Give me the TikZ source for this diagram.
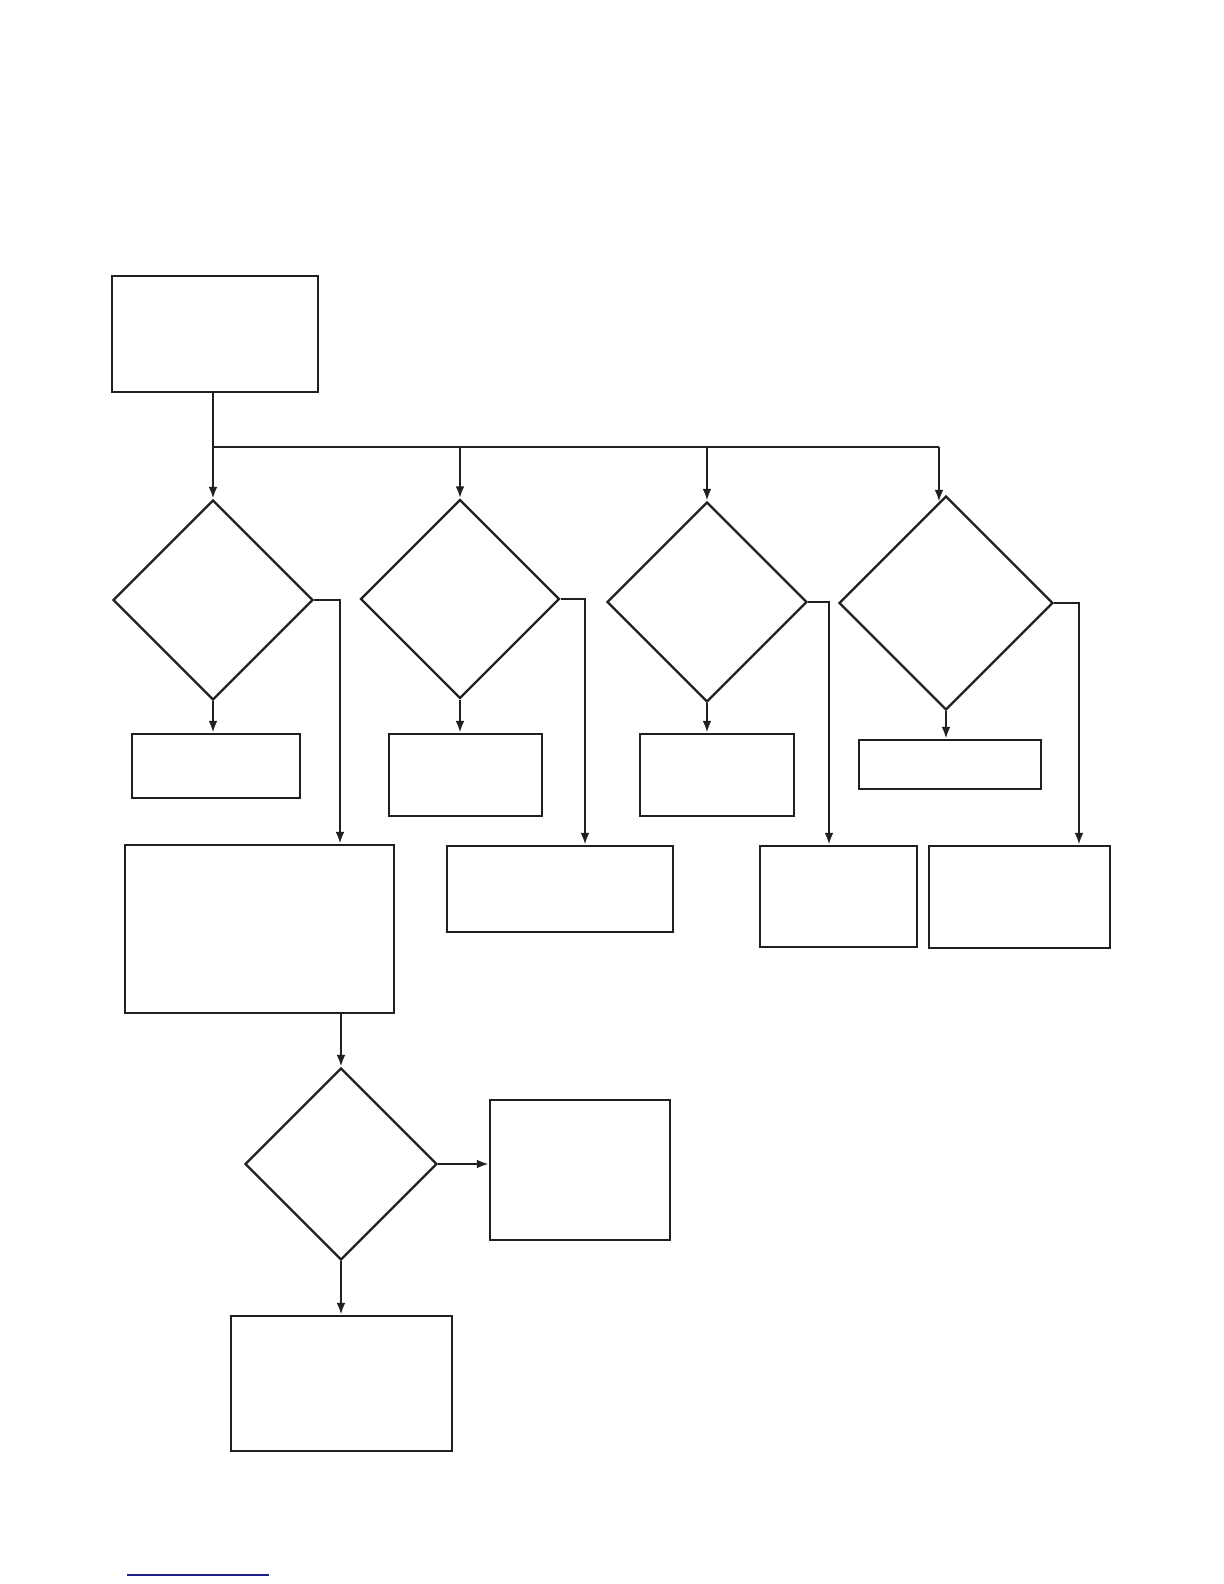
\documentclass[tikz,border=0pt]{standalone}
\usepackage{tikz}
\usetikzlibrary{arrows.meta,positioning,calc,shapes.geometric}
\usepackage{xcolor}
\definecolor{FlowInk}{HTML}{231F20}
\definecolor{FlowLink}{HTML}{1C1C8A}

\begin{document}
\begin{tikzpicture}[x=0.5pt,y=-0.5pt,line width=1.15pt,draw=FlowInk,
    box/.style={draw=FlowInk,rectangle,inner sep=0pt,minimum width=#1},
    decision/.style={draw=FlowInk,diamond,aspect=1,inner sep=0pt,minimum width=#1,minimum height=#1},
    arr/.style={-{Latex[length=6pt,width=4.4pt]},FlowInk}]
    \useasboundingbox (0,0) rectangle (1224,1584);
    % top row
    \node[box=103pt,minimum height=58pt] (start) at (215,334) {};
    \node[decision=100pt] (d1) at (213,600) {};
    \node[decision=99.5pt] (d2) at (460,599) {};
    \node[decision=100pt] (d3) at (707,602) {};
    \node[decision=107pt] (d4) at (946,603) {};
    % boxes under the diamonds
    \node[box=84pt,minimum height=32pt] (b1) at (216,766) {};
    \node[box=76.5pt,minimum height=41pt] (b2) at (465.5,775) {};
    \node[box=77pt,minimum height=41pt] (b3) at (717,775) {};
    \node[box=91pt,minimum height=24.5pt] (b4) at (950,764.5) {};
    % boxes on the right branches
    \node[box=134.5pt,minimum height=84pt] (big) at (259.5,929) {};
    \node[box=113pt,minimum height=43pt] (c2) at (560,889) {};
    \node[box=78.5pt,minimum height=50.5pt] (c3) at (838.5,896.5) {};
    \node[box=90.5pt,minimum height=51pt] (c4) at (1019.5,897) {};
    % lower part
    \node[decision=96pt] (d5) at (341,1164) {};
    \node[box=90pt,minimum height=70pt] (e1) at (580,1170) {};
    \node[box=110.5pt,minimum height=67.5pt] (e2) at (341.5,1383.5) {};
    % bus
    \coordinate (bus1) at (213,447);
    \coordinate (bus4) at (939,447);
    \draw (start.south -| bus1) -- (bus1) -- (bus4);
    \draw[arr] (bus1) -- (d1.north);
    \draw[arr] (d2.north |- bus1) -- (d2.north);
    \draw[arr] (d3.north |- bus1) -- (d3.north);
    \draw[arr] (bus4) -- ($(d4.north)+(-7,7)$);
    \foreach \x/\y in {d1/b1,d2/b2,d3/b3,d4/b4}{\draw[arr] (\x.south) -- (\x.south |- \y.north);}
    \draw[arr] (d1.east) -| ($(big.north)+(80.5,0)$);
    \draw[arr] (d2.east) -| ($(c2.north)+(25,0)$);
    \draw[arr] (d3.east) -| ($(c3.north)+(-9.5,0)$);
    \draw[arr] (d4.east) -| ($(c4.north)+(59.5,0)$);
    \draw[arr] (d5.north |- big.south) -- (d5.north);
    \draw[arr] (d5.east) -- (d5.east -| e1.west);
    \draw[arr] (d5.south) -- (d5.south |- e2.north);
    \draw[FlowLink,line width=0.8pt] (127,1575) -- (269,1575);
  \end{tikzpicture}
\end{document}
